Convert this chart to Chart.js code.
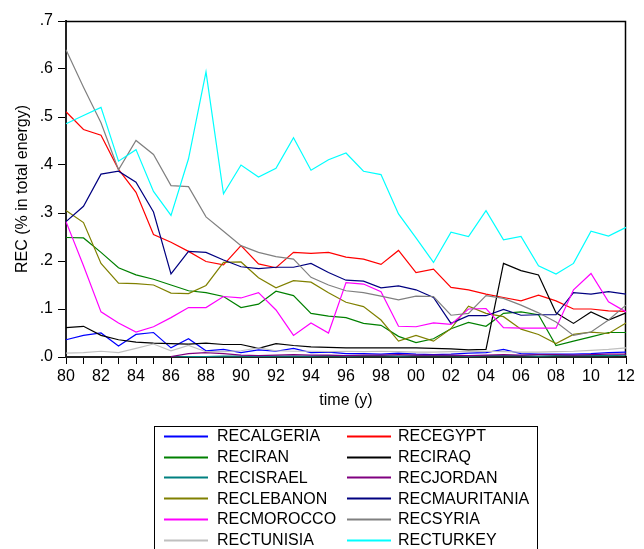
<!DOCTYPE html>
<html><head><meta charset="utf-8">
<script src="https://cdn.jsdelivr.net/npm/chart.js@4/dist/chart.umd.min.js"></script>
<style>html,body{margin:0;padding:0;background:#fff;}#wrap{width:644px;height:549px;}</style>
</head><body><div id="wrap"><canvas id="c" width="644" height="549"></canvas></div>
<script>
const years = ['80','81','82','83','84','85','86','87','88','89','90','91','92','93','94','95','96','97','98','99','00','01','02','03','04','05','06','07','08','09','10','11','12'];
const yTicks = [0, 0.1, 0.2, 0.3, 0.4, 0.5, 0.6, 0.7];
const seriesNames = ['RECALGERIA','RECEGYPT','RECIRAN','RECIRAQ','RECISRAEL','RECJORDAN','RECLEBANON','RECMAURITANIA','RECMOROCCO','RECSYRIA','RECTUNISIA','RECTURKEY'];
const seriesColors = ['#0000FF','#FF0000','#008000','#000000','#008080','#800080','#808000','#000080','#FF00FF','#808080','#C0C0C0','#00FFFF'];

const recAlgeria = [0.036,0.045,0.050,0.023,0.047,0.051,0.019,0.038,0.013,0.016,0.009,0.015,0.012,0.018,0.009,0.010,0.007,0.007,0.006,0.008,0.006,0.005,0.006,0.008,0.009,0.016,0.007,0.006,0.006,0.006,0.007,0.009,0.010];
const recEgypt = [0.511,0.474,0.462,0.391,0.343,0.255,0.239,0.220,0.199,0.192,0.232,0.194,0.186,0.218,0.216,0.218,0.208,0.204,0.193,0.222,0.176,0.183,0.145,0.140,0.131,0.124,0.117,0.129,0.117,0.100,0.100,0.096,0.095];
const recIran = [0.249,0.248,0.218,0.186,0.171,0.162,0.150,0.138,0.134,0.126,0.103,0.110,0.137,0.128,0.091,0.085,0.082,0.070,0.066,0.043,0.030,0.038,0.059,0.072,0.064,0.091,0.094,0.088,0.024,0.033,0.042,0.051,0.051];
const recIraq = [0.061,0.064,0.045,0.036,0.031,0.029,0.028,0.027,0.029,0.026,0.026,0.018,0.028,0.024,0.021,0.020,0.019,0.019,0.019,0.019,0.019,0.018,0.017,0.015,0.016,0.195,0.180,0.171,0.092,0.070,0.094,0.077,0.092];
const recIsrael = [null,null,null,null,null,null,0.000,0.001,0.001,0.002,0.002,0.001,0.002,0.002,0.002,0.003,0.002,0.003,0.003,0.002,0.003,0.003,0.003,0.002,0.003,0.003,0.003,0.002,0.003,0.003,0.003,0.003,0.004];
const recJordan = [null,null,null,null,null,null,0.001,0.007,0.009,0.007,0.004,0.003,0.004,0.005,0.004,0.004,0.003,0.004,0.004,0.005,0.004,0.004,0.004,0.003,0.004,0.005,0.004,0.005,0.005,0.004,0.005,0.006,0.006];
const recLebanon = [0.305,0.280,0.195,0.154,0.153,0.150,0.133,0.132,0.149,0.197,0.198,0.165,0.144,0.159,0.156,0.134,0.114,0.105,0.077,0.033,0.045,0.033,0.059,0.106,0.091,0.084,0.058,0.047,0.028,0.047,0.052,0.049,0.071];
const recMauritania = [0.282,0.314,0.381,0.387,0.364,0.302,0.173,0.220,0.218,0.202,0.188,0.184,0.187,0.187,0.195,0.176,0.160,0.158,0.144,0.148,0.140,0.124,0.070,0.086,0.086,0.099,0.087,0.088,0.088,0.134,0.131,0.136,0.131];
const recMorocco = [0.282,0.190,0.094,0.071,0.052,0.063,0.082,0.103,0.103,0.126,0.123,0.134,0.098,0.045,0.071,0.050,0.155,0.152,0.136,0.064,0.063,0.071,0.068,0.100,0.101,0.061,0.060,0.060,0.060,0.140,0.174,0.115,0.094];
const recSyria = [0.640,0.562,0.488,0.390,0.451,0.422,0.357,0.355,0.292,0.262,0.232,0.218,0.209,0.204,0.166,0.150,0.138,0.134,0.127,0.119,0.127,0.126,0.087,0.091,0.128,0.122,0.108,0.092,0.073,0.045,0.052,0.077,0.108];
const recTunisia = [0.008,0.009,0.012,0.009,0.018,0.027,0.013,0.024,0.011,0.011,0.013,0.019,0.013,0.012,0.012,0.011,0.012,0.011,0.012,0.011,0.010,0.010,0.011,0.011,0.012,0.011,0.010,0.010,0.011,0.012,0.014,0.016,0.019];
const recTurkey = [0.486,0.503,0.520,0.408,0.432,0.345,0.295,0.413,0.594,0.340,0.400,0.375,0.393,0.457,0.389,0.411,0.425,0.387,0.380,0.298,0.248,0.197,0.260,0.251,0.305,0.244,0.251,0.190,0.173,0.195,0.262,0.252,0.270];

const seriesValues = [recAlgeria,recEgypt,recIran,recIraq,recIsrael,recJordan,recLebanon,recMauritania,recMorocco,recSyria,recTunisia,recTurkey];

const FONT = '"Liberation Sans", Arial, sans-serif';

const datasets = seriesNames.map((n, i) => ({
  label: n,
  data: seriesValues[i],
  borderColor: seriesColors[i],
  backgroundColor: seriesColors[i],
  borderWidth: 1.2,
  pointRadius: 0,
  fill: false,
  tension: 0,
  spanGaps: false,
  order: seriesNames.length - i
}));

const framePlugin = {
  id: 'frame',
  beforeDatasetsDraw(chart) {
    const {ctx, chartArea: a} = chart;
    ctx.save();
    ctx.strokeStyle = '#000';
    ctx.lineWidth = 1.5;
    ctx.beginPath();
    ctx.moveTo(a.left, a.top + 0.5);
    ctx.lineTo(a.right - 0.5, a.top + 0.5);
    ctx.lineTo(a.right - 0.5, a.bottom);
    ctx.stroke();
    ctx.restore();
  }
};

const legendPlugin = {
  id: 'boxLegend',
  afterDraw(chart) {
    const ctx = chart.ctx;
    ctx.save();
    ctx.strokeStyle = '#000';
    ctx.lineWidth = 1;
    ctx.strokeRect(154.5, 426.5, 383, 140);
    ctx.font = '16px ' + FONT;
    ctx.textBaseline = 'middle';
    ctx.textAlign = 'left';
    const ds = chart.data.datasets;
    ds.forEach((d, i) => {
      const col = i % 2, row = Math.floor(i / 2);
      const y = 435.7 + row * 20.8;
      const lx = col === 0 ? 164 : 347;
      const tx = col === 0 ? 217 : 398;
      ctx.strokeStyle = d.borderColor;
      ctx.lineWidth = 2;
      ctx.beginPath();
      ctx.moveTo(lx, Math.round(y) + 0.5);
      ctx.lineTo(lx + 44, Math.round(y) + 0.5);
      ctx.stroke();
      ctx.fillStyle = '#000';
      ctx.fillText(d.label, tx, y + 1);
    });
    ctx.restore();
  }
};

new Chart(document.getElementById('c'), {
  type: 'line',
  data: { labels: years, datasets },
  options: {
    responsive: false,
    devicePixelRatio: 1,
    animation: false,
    layout: { padding: { left: 0, top: 21, right: 18, bottom: 139 } },
    plugins: { legend: { display: false }, tooltip: { enabled: false } },
    scales: {
      x: {
        type: 'category',
        offset: false,
        afterFit: s => { s.height = 53; },
        border: { display: true, color: '#222', width: 2 },
        grid: { display: true, drawOnChartArea: false, drawTicks: true, tickLength: 7, color: '#000' },
        ticks: {
          autoSkip: false, maxRotation: 0, padding: 3, color: '#000',
          font: { family: FONT, size: 16 },
          callback: (v, i) => (i % 2 === 0 ? years[i] : '')
        },
        title: { display: true, text: 'time (y)', color: '#000', font: { family: FONT, size: 16 }, padding: { top: 0, bottom: 0 } }
      },
      y: {
        min: 0, max: 0.7,
        afterFit: s => { s.width = 66; },
        afterBuildTicks: s => { s.ticks = yTicks.map(v => ({ value: v })); },
        border: { display: true, color: '#222', width: 2 },
        grid: { display: true, drawOnChartArea: false, drawTicks: true, tickLength: 8, color: '#000' },
        ticks: {
          padding: 5, color: '#000',
          font: { family: FONT, size: 16 },
          callback: v => '.' + Math.round(v * 10)
        },
        title: { display: true, text: 'REC (% in total energy)', color: '#000', font: { family: FONT, size: 16 }, padding: { top: 13, bottom: 0 } }
      }
    }
  },
  plugins: [framePlugin, legendPlugin]
});
</script></body></html>
